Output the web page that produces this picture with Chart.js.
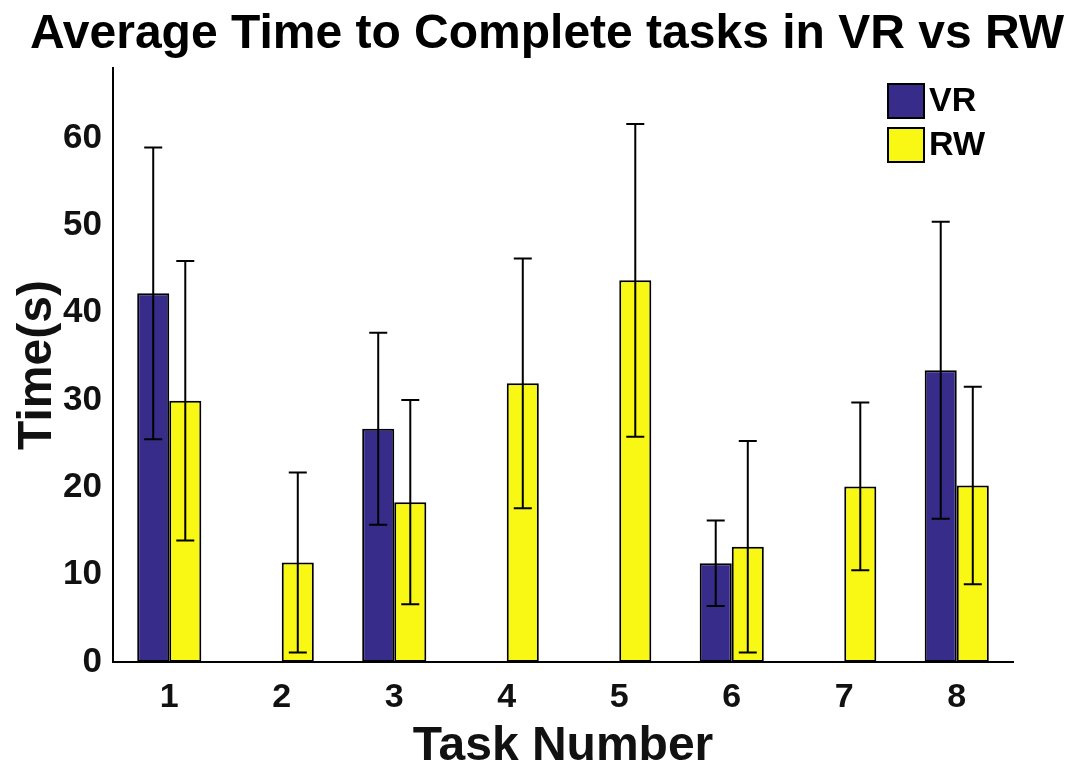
<!DOCTYPE html>
<html>
<head>
<meta charset="utf-8">
<title>Average Time to Complete tasks in VR vs RW</title>
<script src="https://cdn.jsdelivr.net/npm/chart.js@4.4.1/dist/chart.umd.min.js"></script>
<style>
  html, body { margin: 0; padding: 0; background: #ffffff; }
  #wrap { width: 1084px; height: 776px; position: relative; }
</style>
</head>
<body>
<div id="wrap"><canvas id="c" width="1084" height="776"></canvas></div>
<script>
// ---- data ----
const categories = ['1', '2', '3', '4', '5', '6', '7', '8'];
const vrMean = [42.2, 0, 26.7, 0, 0, 11.3, 0, 33.4];
const vrErr  = [16.7, 0, 11.0, 0, 0, 4.9, 0, 17.0];
const rwMean = [29.9, 11.4, 18.3, 31.9, 43.7, 13.2, 20.1, 20.2];
const rwErr  = [16.0, 10.3, 11.7, 14.3, 17.9, 12.1, 9.6, 11.3];
const yTicks = [0, 10, 20, 30, 40, 50, 60];
const seriesNames = ['VR', 'RW'];
const titleText = 'Average Time to Complete tasks in VR vs RW';
const xTitle = 'Task Number';
const yTitle = 'Time(s)';

const FONT = '"Liberation Sans", Arial, Helvetica, sans-serif';
const VR_COLOR = '#372c89';
const RW_COLOR = '#f8f814';
const errorsByDataset = [vrErr, rwErr];

const errorBarPlugin = {
  id: 'errorBars',
  afterDatasetsDraw(chart) {
    const ctx = chart.ctx;
    const yScale = chart.scales.y;
    ctx.save();
    ctx.strokeStyle = '#000000';
    ctx.lineWidth = 2;
    chart.data.datasets.forEach((ds, di) => {
      const meta = chart.getDatasetMeta(di);
      const errs = errorsByDataset[di];
      meta.data.forEach((bar, i) => {
        const m = ds.data[i];
        const e = errs[i];
        if (!e) return;
        const x = bar.x;
        const yTop = yScale.getPixelForValue(m + e);
        const yBot = yScale.getPixelForValue(m - e);
        const cap = 9;
        ctx.beginPath();
        ctx.moveTo(x, yTop); ctx.lineTo(x, yBot);
        ctx.moveTo(x - cap, yTop); ctx.lineTo(x + cap, yTop);
        ctx.moveTo(x - cap, yBot); ctx.lineTo(x + cap, yBot);
        ctx.stroke();
      });
    });
    ctx.restore();
  }
};

const decorPlugin = {
  id: 'decor',
  afterDraw(chart) {
    const ctx = chart.ctx;
    const area = chart.chartArea;
    ctx.save();
    // title
    ctx.fillStyle = '#000000';
    ctx.font = 'bold 48px ' + FONT;
    ctx.textAlign = 'center';
    ctx.textBaseline = 'alphabetic';
    ctx.fillText(titleText, 547, 48);
    // legend
    const bx = area.right - 125;
    let by = area.top + 16;
    ctx.font = 'bold 34px ' + FONT;
    ctx.textAlign = 'left';
    ctx.textBaseline = 'middle';
    chart.data.datasets.forEach((ds) => {
      ctx.fillStyle = ds.backgroundColor;
      ctx.fillRect(bx, by, 36, 34);
      ctx.strokeStyle = '#000000';
      ctx.lineWidth = 2;
      ctx.strokeRect(bx, by, 36, 34);
      ctx.fillStyle = '#000000';
      ctx.fillText(ds.label, bx + 41, by + 18);
      by += 44;
    });
    ctx.restore();
  }
};

new Chart(document.getElementById('c'), {
  type: 'bar',
  data: {
    labels: categories,
    datasets: [
      { label: seriesNames[0], data: vrMean, backgroundColor: VR_COLOR, borderColor: '#000000', borderWidth: 2, borderSkipped: false },
      { label: seriesNames[1], data: rwMean, backgroundColor: RW_COLOR, borderColor: '#000000', borderWidth: 2, borderSkipped: false }
    ]
  },
  options: {
    responsive: false,
    animation: false,
    devicePixelRatio: 1,
    layout: { padding: { top: 68, right: 71, left: 0, bottom: 0 } },
    datasets: { bar: { categoryPercentage: 0.57, barPercentage: 1.0 } },
    plugins: {
      legend: { display: false },
      title: { display: false },
      tooltip: { enabled: false }
    },
    scales: {
      x: {
        offset: true,
        grid: { display: false, drawTicks: false },
        border: { display: true, color: '#000000', width: 2 },
        ticks: { color: '#111111', font: { family: FONT, size: 34, weight: 'bold' }, padding: 15 },
        title: { display: true, text: xTitle, color: '#111111', font: { family: FONT, size: 48, weight: 'bold' }, padding: { top: 0, bottom: 0 } },
        afterFit(scale) { scale.height = 114; }
      },
      y: {
        min: 0,
        max: 68,
        afterBuildTicks(scale) { scale.ticks = yTicks.map(v => ({ value: v })); },
        grid: { display: false, drawTicks: false },
        border: { display: true, color: '#000000', width: 2 },
        ticks: { color: '#111111', font: { family: FONT, size: 35, weight: 'bold' }, padding: 11 },
        title: { display: true, text: yTitle, color: '#111111', font: { family: FONT, size: 48, weight: 'bold' }, padding: { top: 9, bottom: 0 } },
        afterFit(scale) { scale.width = 113; }
      }
    }
  },
  plugins: [errorBarPlugin, decorPlugin]
});
</script>
</body>
</html>
